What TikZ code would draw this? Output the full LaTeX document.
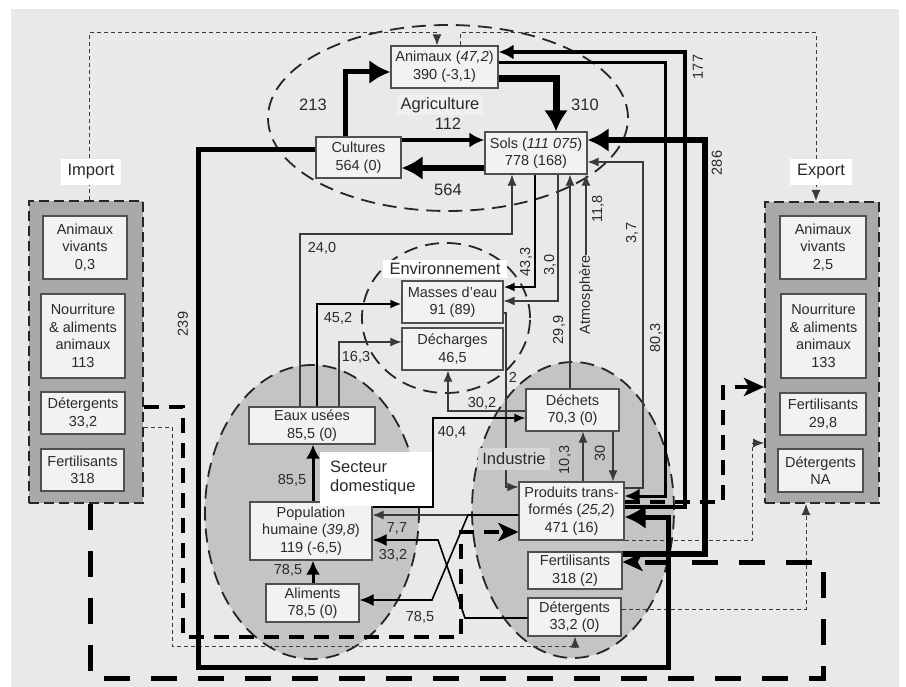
\documentclass[tikz,border=0pt]{standalone}
\usepackage{fontspec}
\setmainfont{Liberation Sans}
\usetikzlibrary{arrows.meta}
\definecolor{bgc}{HTML}{E9E9EB}
\definecolor{boxf}{HTML}{F2F2F4}
\definecolor{boxc}{HTML}{505050}
\definecolor{txt}{HTML}{2A2A2A}
\definecolor{linec}{HTML}{3A3A3A}
\definecolor{ellf}{HTML}{C4C4C6}
\definecolor{contf}{HTML}{A9A9AB}
\definecolor{agrf}{HTML}{F0F0F2}
\definecolor{indf}{HTML}{D6D6D8}
\begin{document}
\begin{tikzpicture}[x=1pt,y=-1pt,
  box/.style={draw=boxc, fill=boxf, line width=1.2pt, align=center, inner sep=0pt, text=txt, font=\fontsize{14.5}{17.5}\selectfont},
  cont/.style={draw=black!85, fill=contf, line width=2pt, dash pattern=on 10pt off 5pt, inner sep=0pt},
  lab/.style={text=txt, font=\fontsize{14.5}{17}\selectfont, inner sep=1pt},
  biglab/.style={text=txt, font=\fontsize{16.5}{19.5}\selectfont, inner sep=1pt},
  ellb/.style={draw=black!85, line width=1.8pt, dash pattern=on 14pt off 8pt},
  thinl/.style={draw=linec, line width=1.1pt},
  tipS/.style={-{Latex[length=11pt,width=9pt]}},
  tipM/.style={-{Latex[length=15pt,width=15pt]}},
  tipL/.style={-{Latex[length=21pt,width=24pt]}},
  thinD/.style={draw=linec, line width=1pt, dash pattern=on 4pt off 3pt},
  thickD/.style={draw=black, line width=4pt, dash pattern=on 15pt off 10pt},
  hugeD/.style={draw=black, line width=5pt, dash pattern=on 26pt off 21pt},
  tipD/.style={-{Stealth[length=20pt,width=18pt,inset=5pt]}}
]
\useasboundingbox (0,0) rectangle (906,687);
\fill[bgc] (11,9) rectangle (899,687);

% ellipses
\draw[ellb, fill=ellf] (312,512) ellipse [x radius=107pt, y radius=147pt];
\draw[ellb, fill=ellf] (573,510) ellipse [x radius=101pt, y radius=148pt];
\draw[ellb] (448,118) ellipse [x radius=180pt, y radius=93pt];
\draw[ellb] (446,318) ellipse [x radius=84pt, y radius=75pt];

% import / export containers
\node[cont, minimum width=114pt, minimum height=302pt] (imp) at (86,352) {};
\node[cont, minimum width=114pt, minimum height=301pt] (exp) at (822,352.5) {};

\node[box, minimum width=84pt, minimum height=63pt] (ianim) at (85,247.5) {Animaux\\vivants\\0,3};
\node[box, minimum width=84pt, minimum height=84pt] (inour) at (83,336) {Nourriture\\\& aliments\\animaux\\113};
\node[box, minimum width=84pt, minimum height=42pt] (idet) at (83,413) {Détergents\\33,2};
\node[box, minimum width=83pt, minimum height=42pt] (ifert) at (82.5,470) {Fertilisants\\318};

\node[box, minimum width=86pt, minimum height=63pt] (eanim) at (823,247.5) {Animaux\\vivants\\2,5};
\node[box, minimum width=85pt, minimum height=84pt] (enour) at (823.5,336) {Nourriture\\\& aliments\\animaux\\133};
\node[box, minimum width=86pt, minimum height=42pt] (efert) at (823,414) {Fertilisants\\29,8};
\node[box, minimum width=85pt, minimum height=43pt] (edet) at (820.5,470.5) {Détergents\\NA};

% main boxes
\node[box, minimum width=107pt, minimum height=42pt] (anim) at (444.5,67) {Animaux (\textit{47,2})\\390 (-3,1)};
\node[box, minimum width=85pt, minimum height=41pt] (cult) at (358.5,157.5) {Cultures\\564 (0)};
\node[box, minimum width=102pt, minimum height=42pt] (sols) at (536,153) {Sols (\textit{111 075})\\778 (168)};
\node[box, minimum width=101pt, minimum height=42pt] (mass) at (452.5,302) {Masses d’eau\\91 (89)};
\node[box, minimum width=101pt, minimum height=42pt] (dechg) at (452.5,349) {Décharges\\46,5};
\node[box, minimum width=126pt, minimum height=37pt] (eaux) at (312,425.5) {Eaux usées\\85,5 (0)};
\node[box, minimum width=122pt, minimum height=58pt] (pop) at (311,531) {Population\\humaine (\textit{39,8})\\119 (-6,5)};
\node[box, minimum width=93pt, minimum height=38pt] (alim) at (312.5,603) {Aliments\\78,5 (0)};
\node[box, minimum width=93pt, minimum height=42pt] (dech) at (572.5,410) {Déchets\\70,3 (0)};
\node[box, minimum width=105pt, minimum height=58pt] (prod) at (571.5,511) {Produits trans-\\formés (\textit{25,2})\\471 (16)};
\node[box, minimum width=94pt, minimum height=37pt] (fert) at (575,570.5) {Fertilisants\\318 (2)};
\node[box, minimum width=93pt, minimum height=38pt] (det) at (574.5,617) {Détergents\\33,2 (0)};

\node[lab, rotate=90, text=txt] (atm) at (586,295) {Atmosphère};

% dashed import/export flows
\draw[thinD, tipS] (89,0 |- imp.north) -- (89,33) -- (437,33) -- (437,0 |- anim.north);
\draw[thinD, tipS] (460,0 |- anim.north) -- (460,33) -- (816,33) -- (816,0 |- exp.north);
\draw[thinD, tipS] (imp.east |- 0,427) -- (172,427) -- (172,646) -- (575,646) -- (575,0 |- det.south);
\draw[thinD, tipS] (prod.south east) -- (752,0 |- prod.south east) -- (752,443) -- (exp.west |- 0,443);
\draw[thinD, tipS] (det.east |- 0,609) -- (806,609) -- (806,0 |- exp.south);
\draw[thickD, tipD] (imp.east |- 0,407) -- (183,407) -- (183,637) -- (461,637) -- (461,532) -- (prod.west |- 0,532);
\draw[thickD, tipD] (prod.east |- 0,502) -- (723,502) -- (723,387) -- (exp.west |- 0,387);
\draw[hugeD, tipD] (90,0 |- imp.south) -- (90,678) -- (823,678) -- (823,562) -- (fert.east |- 0,562);

% agriculture flows
\draw[line width=5pt, tipL] (345,0 |- cult.north) -- (345,72) -- (anim.west |- 0,72);
\draw[line width=7pt, tipL] (anim.east |- 0,79) -- (556,79) -- (556,0 |- sols.north);
\draw[line width=4pt, tipM] (cult.east |- 0,140) -- (sols.west |- 0,140);
\draw[line width=6pt, tipL] (sols.west |- 0,168) -- (cult.east |- 0,168);

% long solid flows
\draw[line width=5pt, tipL] (cult.west |- 0,150) -- (198,150) -- (198,667) -- (668,667) -- (668,517) -- (prod.east |- 0,517);
\draw[line width=4pt, tipM] (prod.east |- 0,507) -- (685,507) -- (685,52) -- (anim.east |- 0,52);
\draw[line width=3pt, tipM] (anim.east |- 0,63) -- (665,63) -- (665,496) -- (prod.east |- 0,496);
\draw[line width=6pt, tipL] (fert.east |- 0,554) -- (705,554) -- (705,140) -- (sols.east |- 0,140);
\draw[thinl, tipS] (prod.east |- 0,488) -- (643,488) -- (643,162) -- (sols.east |- 0,162);

% soils / environment
\draw[thinl, tipS] (300,0 |- eaux.north) -- (300,234) -- (512,234) -- (512,0 |- sols.south);
\draw[draw=black, line width=2pt, tipS] (535,0 |- sols.south) -- (535,287) -- (mass.east |- 0,287);
\draw[thinl, tipS] (558,0 |- sols.south) -- (558,301) -- (mass.east |- 0,301);
\draw[thinl, tipS] (570,0 |- dech.north) -- (570,0 |- sols.south);
\draw[thinl, tipS] (atm.east) -- (atm.east |- sols.south);
\draw[draw=black, line width=2pt, tipS] (317,0 |- eaux.north) -- (317,304) -- (mass.west |- 0,304);
\draw[thinl, tipS] (339,0 |- eaux.north) -- (339,342) -- (dechg.west |- 0,342);
\draw[thinl, tipS] (mass.east |- 0,313) -- (506,313) -- (506,487) -- (prod.west |- 0,487);
\draw[thinl, tipS] (dech.west |- 0,411) -- (448,411) -- (448,0 |- dechg.south);
\draw[draw=black, line width=1.5pt, tipS] (pop.east |- 0,507) -- (433,507) -- (433,418) -- (dech.west |- 0,418);

% domestic
\draw[line width=3pt, -{Latex[length=14pt,width=14pt]}] (313,0 |- pop.north) -- (313,0 |- eaux.south);
\draw[line width=3pt, -{Latex[length=14pt,width=14pt]}] (313,0 |- alim.north) -- (313,0 |- pop.south);
\draw[thinl, tipS] (prod.west |- 0,515) -- (pop.east |- 0,515);
\draw[draw=black, line width=1.6pt, -{Latex[length=14pt,width=12pt]}] (prod.west |- 0,515) -- (468,515) -- (432,600) -- (alim.east |- 0,600);
\draw[draw=black, line width=1.6pt, -{Latex[length=14pt,width=12pt]}] (det.west |- 0,618) -- (465,618) -- (438,540) -- (pop.east |- 0,540);

% industry
\draw[thinl, tipS] (583,0 |- prod.north) -- (583,0 |- dech.south);
\draw[thinl, tipS] (613,0 |- dech.south) -- (613,0 |- prod.north);

% group labels
\node[biglab, fill=agrf, inner xsep=4pt, inner ysep=2pt] (agr) at (440,105) {Agriculture};
\node[biglab] (v112) at (448,124) {112};
\node[biglab, fill=white, inner xsep=7pt, inner ysep=3pt] (envl) at (445,269) {Environnement};
\fill[white] (320,452) rectangle (432,506);
\node[biglab, align=left, anchor=west] (sdl) at (329,478) {Secteur\\domestique};
\node[biglab, fill=indf, inner xsep=4pt, inner ysep=5pt] (indl) at (514,459) {Industrie};
\node[biglab, fill=white, inner xsep=7pt, inner ysep=6pt] (impl) at (91,172) {Import};
\node[biglab, fill=white, inner xsep=7pt, inner ysep=6pt] (expl) at (821,172) {Export};

% value labels
\node[biglab] (l213) at (313,105) {213};
\node[biglab] (l310) at (585,105) {310};
\node[biglab] (l564) at (448,190) {564};
\node[lab, rotate=90] (l177) at (698,67) {177};
\node[lab, rotate=90] (l286) at (717,163) {286};
\node[lab, rotate=90] (l239) at (183,324) {239};
\node[lab] (l240) at (322,248) {24,0};
\node[lab] (l452) at (338,318) {45,2};
\node[lab] (l163) at (356,357) {16,3};
\node[lab, rotate=90] (l433) at (526,262) {43,3};
\node[lab, rotate=90] (l30a) at (550,265) {3,0};
\node[lab, rotate=90] (l299) at (559,330) {29,9};
\node[lab, rotate=90] (l118) at (598,209) {11,8};
\node[lab, rotate=90] (l37) at (632,233) {3,7};
\node[lab, rotate=90] (l803) at (656,338) {80,3};
\node[lab] (l2) at (513,377) {2};
\node[lab] (l302) at (482,403) {30,2};
\node[lab] (l404) at (452,432) {40,4};
\node[lab] (l855) at (292,480) {85,5};
\node[lab] (l785a) at (288,570) {78,5};
\node[lab] (l77) at (397,528) {7,7};
\node[lab] (l332) at (393,555) {33,2};
\node[lab] (l785b) at (420,617) {78,5};
\node[lab, rotate=90] (l103) at (565,460) {10,3};
\node[lab, rotate=90] (l30b) at (600,453) {30};
\end{tikzpicture}
\end{document}
